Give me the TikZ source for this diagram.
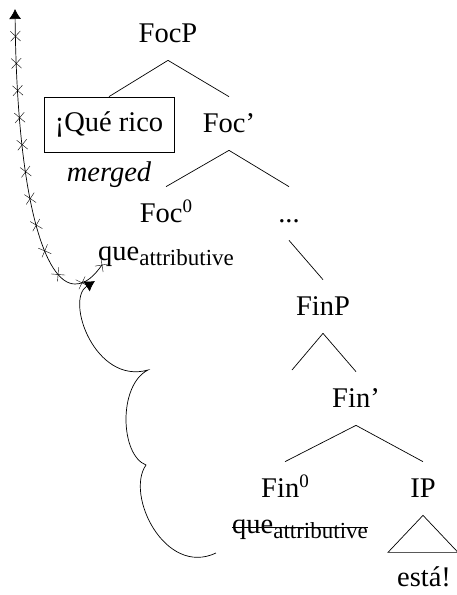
\documentclass[tikz,border=0pt]{standalone}
\usepackage{fontspec}
\setmainfont{Liberation Serif}
\usetikzlibrary{arrows.meta,decorations.markings}

\newcommand{\subtext}[1]{\raisebox{-5pt}{\fontsize{23}{26}\selectfont #1}}
\newcommand{\suptext}[1]{\raisebox{10pt}{\fontsize{19}{22}\selectfont #1}}

\tikzset{
  cat/.style={anchor=base, inner xsep=0pt, inner ysep=17pt, text height=18pt, text depth=1pt},
  plain/.style={anchor=base, inner sep=0pt},
  crossed/.style={decoration={markings,
      mark=between positions 0 and 1 step 0.08333 with {\draw[arrows=-, thin] (-5pt,-5pt) -- (5pt,5pt) (-5pt,5pt) -- (5pt,-5pt);}},
    postaction={decorate}},
  tip/.style={-{Latex[length=10pt,width=12pt]}}
}

\begin{document}
\begin{tikzpicture}[x=1pt, y=-1pt, line width=0.7pt, every node/.style={font=\fontsize{28.5}{32}\selectfont}]
    \useasboundingbox (0,0) rectangle (456,595);

    \node[cat] (focp) at (168,42) {FocP};
    \node[draw, line width=0.8pt, minimum width=130pt, minimum height=55pt, inner sep=0pt] (qrbox) at (109,124.5) {¡Qué rico};
    \node[cat] (focbar) at (229,132) {Foc'};
    \node[plain] (merged) at (109,181) {\itshape merged};
    \node[cat] (foczero) at (166,222) {Foc\suptext{0}};
    \node[cat] (dots) at (289,222) {...};
    \node[plain] (queup) at (166,260) {que\subtext{attributive}};

    \node[cat] (finp) at (323,315) {FinP};
    \coordinate (finspec) at (292,370);
    \node[cat] (finbar) at (356,407) {Fin'};
    \node[cat] (finzero) at (285,497) {Fin\suptext{0}};
    \node[cat] (ip) at (423,497) {IP};
    \node[plain] (quedown) at (300,533) {que\subtext{attributive}};
    \node[plain] (esta) at (424,586) {está!};

    \draw (focp.south) -- (qrbox.north);
    \draw (focp.south) -- (focbar.north);
    \draw (focbar.south) -- (foczero.north);
    \draw (focbar.south) -- (dots.north);
    \draw (dots.south) -- (finp.north);
    \draw (finp.south) -- (finspec);
    \draw (finp.south) -- (finbar.north);
    \draw (finbar.south) -- (finzero.north);
    \draw (finbar.south) -- (ip.north);
    \draw (ip.south) -- ++(-35,37) -- ++(70,0) -- cycle;

    \draw ([yshift=6pt]quedown.base west) -- ([yshift=6pt]quedown.base east);

    % movement paths
    \coordinate (movestart) at (102,265);
    \coordinate (movebend) at (75,284);
    \coordinate (movetop) at (15,9);
    \draw[tip, crossed] (movestart) .. controls (94,276) and (86,284) .. (movebend)
        .. controls (45,284) and (17,200) .. (movetop);

    \coordinate (curlstart) at (216,553);
    \coordinate (curlone) at (146,465);
    \coordinate (curltwo) at (148,370);
    \coordinate (curlend) at (95,281);
    \draw[tip] (curlstart) .. controls (165,577) and (125,495) .. (curlone)
        .. controls (120,455) and (118,385) .. (curltwo)
        .. controls (95,385) and (65,300) .. (curlend);
\end{tikzpicture}
\end{document}
